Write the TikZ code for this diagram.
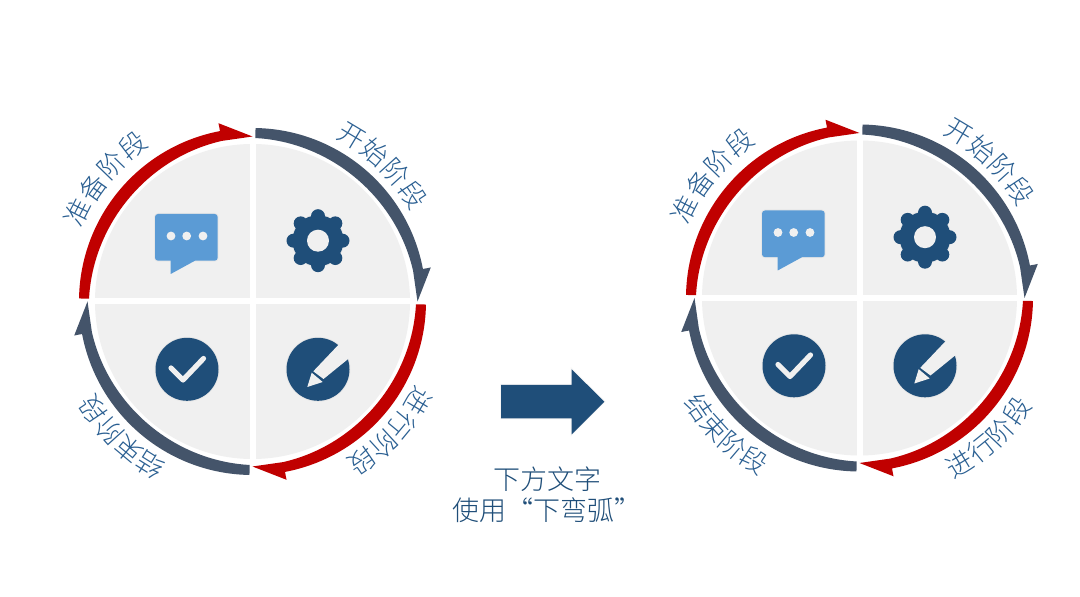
\documentclass[tikz,border=0pt]{standalone}
\usepackage{fontspec}
\setmainfont{Noto Sans CJK SC Light}
\definecolor{darkred}{HTML}{C00000}
\definecolor{slateblue}{HTML}{44546A}
\definecolor{navyicon}{HTML}{1F4E79}
\definecolor{chatblue}{HTML}{5B9BD5}
\definecolor{panelgray}{HTML}{F0F0F0}
\definecolor{labelblue}{HTML}{2A5F92}
\tikzset{
  arclabel/.style={text=labelblue,font=\fontsize{26.5}{27}\selectfont,inner sep=0pt},
  captiontext/.style={text=navyicon,font=\fontsize{27}{27}\selectfont,inner sep=0pt},
  softglow/.style={preaction={draw=black,draw opacity=.035,line width=2pt}},
}
% clockwise arc arrow, slightly thicker mid-span: #1 colour, #2 start angle, #3 tip angle
\newcommand\ringarrow[3]{%
  \pgfmathsetmacro\baseang{#3+10.8}%
  \fill[#1] plot[domain=#2:\baseang,samples=40,smooth] (\x:{163.5-2.5*sin(180*(\x-(#2))/(\baseang-(#2)))})
     -- (#3:165) -- (\baseang:181.5) -- (\baseang:173.5)
     arc[start angle=\baseang,end angle=#2,radius=173.5] -- cycle;
}
\newcommand\dial{%
  \fill[panelgray] (0,0) circle[radius=157.5];
  \fill[white] (-160,-3) rectangle (160,3);
  \fill[white] (-3,-160) rectangle (3,160);
  \ringarrow{darkred}{179}{90}
  \ringarrow{slateblue}{89}{0}
  \ringarrow{darkred}{-1}{-90}
  \ringarrow{slateblue}{-91}{-180}
  % chat icon
  \fill[chatblue,rounded corners=3pt,softglow] (-97.5,87.5) -- (-97.5,40.8) -- (-34.8,40.8) -- (-34.8,87.5) -- cycle;
  \fill[chatblue] (-81.8,41.5) -- (-81.8,27.5) -- (-57.5,40.8) -- (-57.5,41.5) -- cycle;
  \foreach \dx in {-81.5,-65.8,-49.5} \fill[panelgray] (\dx,65.5) circle[radius=4.4];
  % gear icon
  \begin{scope}[shift={(65.5,60.8)}]
    \fill[navyicon,softglow] (0,0) circle[radius=25.5];
    \foreach \g in {0,45,...,315} \fill[navyicon] (\g:24.5) circle[radius=7];
    \fill[panelgray] (0,0) circle[radius=11];
  \end{scope}
  % check icon
  \fill[navyicon,softglow] (-65.5,-67.8) circle[radius=31.5];
  \draw[panelgray,line width=5.2pt,line cap=round,line join=round]
     (-81.5,-66.5) -- (-69.5,-78.5) -- (-49,-57);
  % pencil icon
  \fill[navyicon,softglow] (65.5,-67.8) circle[radius=31.5];
  \begin{scope}
    \clip (65.5,-67.8) circle[radius=33.5];
    \fill[panelgray] (60.8,-69.8) -- (88.8,-40.3) -- (100.2,-53.8) -- (71,-77.5) -- cycle;
  \end{scope}
  \fill[panelgray] (59.2,-71.2) -- (54.8,-85.5) -- (70.2,-80.5) -- cycle;
}
% characters along an arc: #1 name prefix, #2 radius, #3 rotation offset, #4 list angle/char
\newcommand\arctext[4]{%
  \foreach \a/\c [count=\i] in {#4} {
    \pgfmathsetmacro\rot{\a+#3}
    \node[arclabel,rotate=\rot] (#1\i) at (\a:#2) {\c};
  }
}
\begin{document}
\begin{tikzpicture}[x=1pt,y=1pt]
\useasboundingbox (0,0) rectangle (1080,597);
\fill[white] (0,0) rectangle (1080,597);
% left dial
\begin{scope}[shift={(252.5,295.5)}]
  \dial
  \arctext{la}{196.5}{-90}{153/准,144.5/备,136/阶,127.5/段}
  \arctext{lb}{193}{-90}{59/开,50.5/始,42/阶,33.5/段}
  \arctext{lc}{194}{-90}{-31/进,-39.5/行,-47.5/阶,-55.5/段}
  \arctext{ld}{193}{-90}{-122/结,-130/束,-138/阶,-146/段}
\end{scope}
% right dial
\begin{scope}[shift={(859.5,299)}]
  \dial
  \arctext{ra}{196.5}{-90}{153/准,144.5/备,136/阶,127.5/段}
  \arctext{rb}{193}{-90}{59/开,50.5/始,42/阶,33.5/段}
  \arctext{rc}{194}{90}{-59/进,-51/行,-43.5/阶,-35.5/段}
  \arctext{rd}{194}{90}{214.5/结,222/束,229.5/阶,237/段}
\end{scope}
% big arrow
\fill[navyicon,softglow] (501,212) -- (571.7,212) -- (571.7,227.7) -- (604.3,195.3)
   -- (571.7,162.7) -- (571.7,178.7) -- (501,178.7) -- cycle;
\node[captiontext] (caption1) at (547.5,117.5) {下方文字};
\node[captiontext] (caption2) at (547,86.5) {使用“下弯弧”};
\end{tikzpicture}
\end{document}
